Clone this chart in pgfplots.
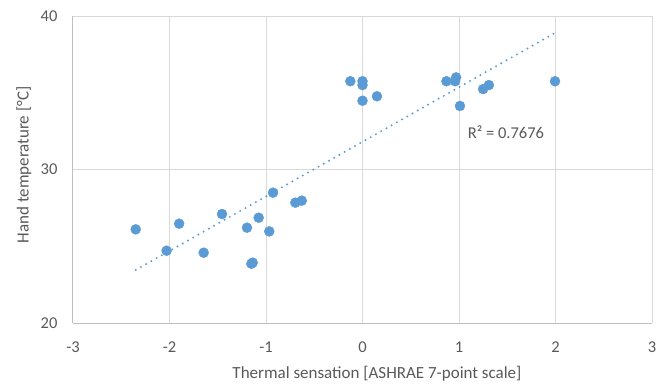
\documentclass[border=0pt]{standalone}
\usepackage{pgfplots}
\pgfplotsset{compat=1.18}
\usepackage{fontspec}
\setmainfont{Carlito}
\definecolor{txt}{HTML}{595959}
\definecolor{grd}{HTML}{D9D9D9}
\definecolor{axl}{HTML}{BFBFBF}
\definecolor{blu}{HTML}{5B9BD5}
\begin{document}
\begin{tikzpicture}
\begin{axis}[
  scale only axis,
  width=579pt, height=307pt,
  xmin=-3, xmax=3, ymin=20, ymax=40,
  xtick={-3,-2,-1,0,1,2,3},
  ytick={20,30,40},
  grid=major,
  major grid style={grd, line width=1pt},
  axis x line*=bottom, axis y line*=left,
  axis line style={axl, line width=1pt, -},
  major tick length=0pt,
  /pgf/number format/assume math mode=true,
  ticklabel style={font=\fontsize{16.5}{19}\selectfont, text=txt},
  xticklabel style={anchor=center, yshift=-24pt},
  yticklabel style={anchor=east, xshift=-12pt},
  clip=false,
]
\addplot[only marks, mark=*, mark size=5pt, blu, mark options={draw=blu, fill=blu}] coordinates {
(-2.35,26.1) (-2.03,24.71) (-1.90,26.47) (-1.646,24.58) (-1.456,27.10)
(-1.197,26.21) (-1.152,23.86) (-1.138,23.93) (-1.076,26.86) (-0.966,25.97)
(-0.927,28.49) (-0.696,27.84) (-0.63,27.97)
(-0.126,35.75) (0,35.75) (0,35.5) (0,34.48) (0.15,34.77)
(0.87,35.75) (0.97,36.0) (0.96,35.75) (1.01,34.14) (1.25,35.24) (1.31,35.5) (1.995,35.75)
};
\addplot[blu, line width=2.2pt, dash pattern=on 0pt off 6pt, line cap=round] coordinates {(-2.35,23.45) (1.995,38.9)};
\node[anchor=west, text=txt, font=\fontsize{16.5}{19}\selectfont, inner sep=0pt] at (axis cs:1.09,32.4) {R² = 0.7676};
\node[text=txt, font=\fontsize{17}{20}\selectfont] at (axis description cs:0.525,-0.166) {Thermal sensation [ASHRAE 7-point scale]};
\node[text=txt, font=\fontsize{17}{20}\selectfont, rotate=90] at (axis description cs:-0.085,0.515) {Hand temperature [°C]};
\end{axis}
\useasboundingbox (-73pt,-61pt) rectangle (589pt,323pt);
\end{tikzpicture}
\end{document}
